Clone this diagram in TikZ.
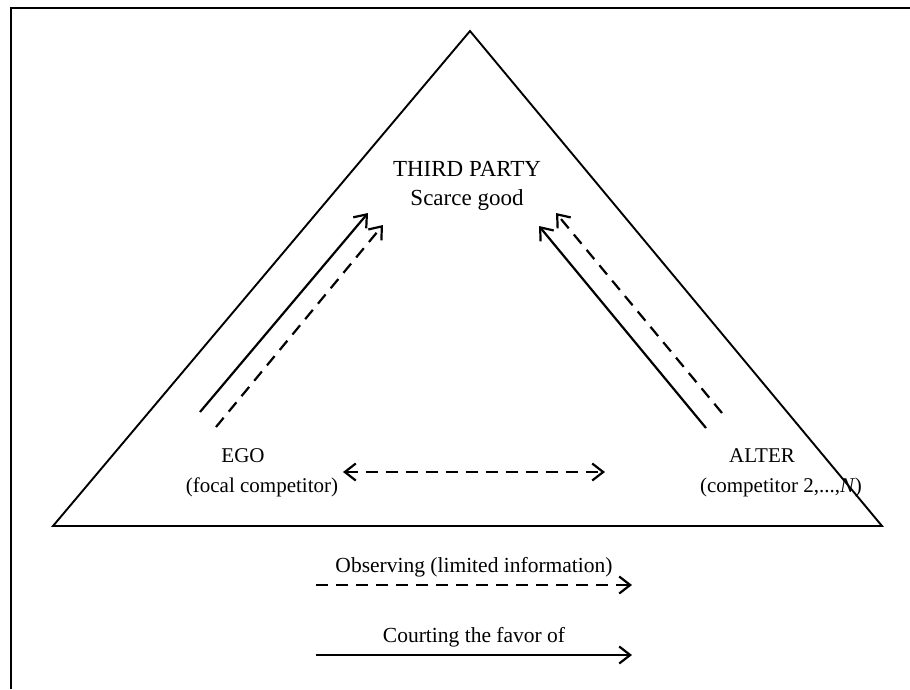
\documentclass[tikz,border=0pt]{standalone}
\usepackage{fontspec}
\setmainfont{Liberation Serif}
\usetikzlibrary{arrows.meta}
\tikzset{
  lbl/.style={font=\fontsize{21}{24}\selectfont, inner sep=0pt, anchor=base},
  big/.style={font=\fontsize{23}{26}\selectfont},
  leg/.style={font=\fontsize{21.5}{24}\selectfont},
  barb/.tip={Straight Barb[length=11pt,width=17pt,line width=2.2pt]},
  court/.style={line width=2.2pt, -barb},
  obs/.style={court, dash pattern=on 12pt off 8pt},
  obsboth/.style={obs, barb-barb},
  edge/.style={line width=1.9pt, line join=miter}
}
\begin{document}
\begin{tikzpicture}[x=1pt,y=-1pt]
\useasboundingbox (0,0) rectangle (910,689);
% frame
\coordinate (fbl) at (11,689);
\coordinate (ftl) at (11,8);
\coordinate (ftr) at (910,8);
\draw[line width=1.6pt] (fbl) -- (ftl) -- (ftr);
% triangle
\coordinate (L) at (53,526);
\coordinate (T) at (470,31);
\coordinate (R) at (882,526);
\draw[edge] (L) -- (T) -- (R) -- cycle;
% labels
\node[lbl, big] (tp) at (467,176) {THIRD PARTY};
\node[lbl, big] (sg) at (467,205) {Scarce good};
\node[lbl] (ego) at (243,462) {EGO};
\node[lbl] (egod) at (262,492) {(focal competitor)};
\node[lbl] (alt) at (762,462) {ALTER};
\node[lbl] (altd) at (781,492) {(competitor 2,...,\textit{N})};
% arrow end points
\coordinate (es) at (200,412);
\coordinate (ee) at (368,213);
\coordinate (eds) at (216,427);
\coordinate (ede) at (383,225);
\coordinate (as) at (706,428);
\coordinate (ae) at (539,226);
\coordinate (ads) at (722,413);
\coordinate (ade) at (556,213);
\coordinate (ml) at (343,472);
\coordinate (mr) at (605,472);
\draw[court] (es) -- (ee);
\draw[obs] (eds) -- (ede);
\draw[court] (as) -- (ae);
\draw[obs] (ads) -- (ade);
\draw[obsboth] (ml) -- (mr);
% legend
\coordinate (l1s) at (316,585);
\coordinate (l1e) at (632,585);
\coordinate (l2s) at (316,655);
\coordinate (l2e) at (632,655);
\draw[obs] (l1s) -- (l1e);
\draw[court] (l2s) -- (l2e);
\node[lbl, leg] (lt1) at (474,572) {Observing (limited information)};
\node[lbl, leg] (lt2) at (474,642) {Courting the favor of};
\end{tikzpicture}
\end{document}
